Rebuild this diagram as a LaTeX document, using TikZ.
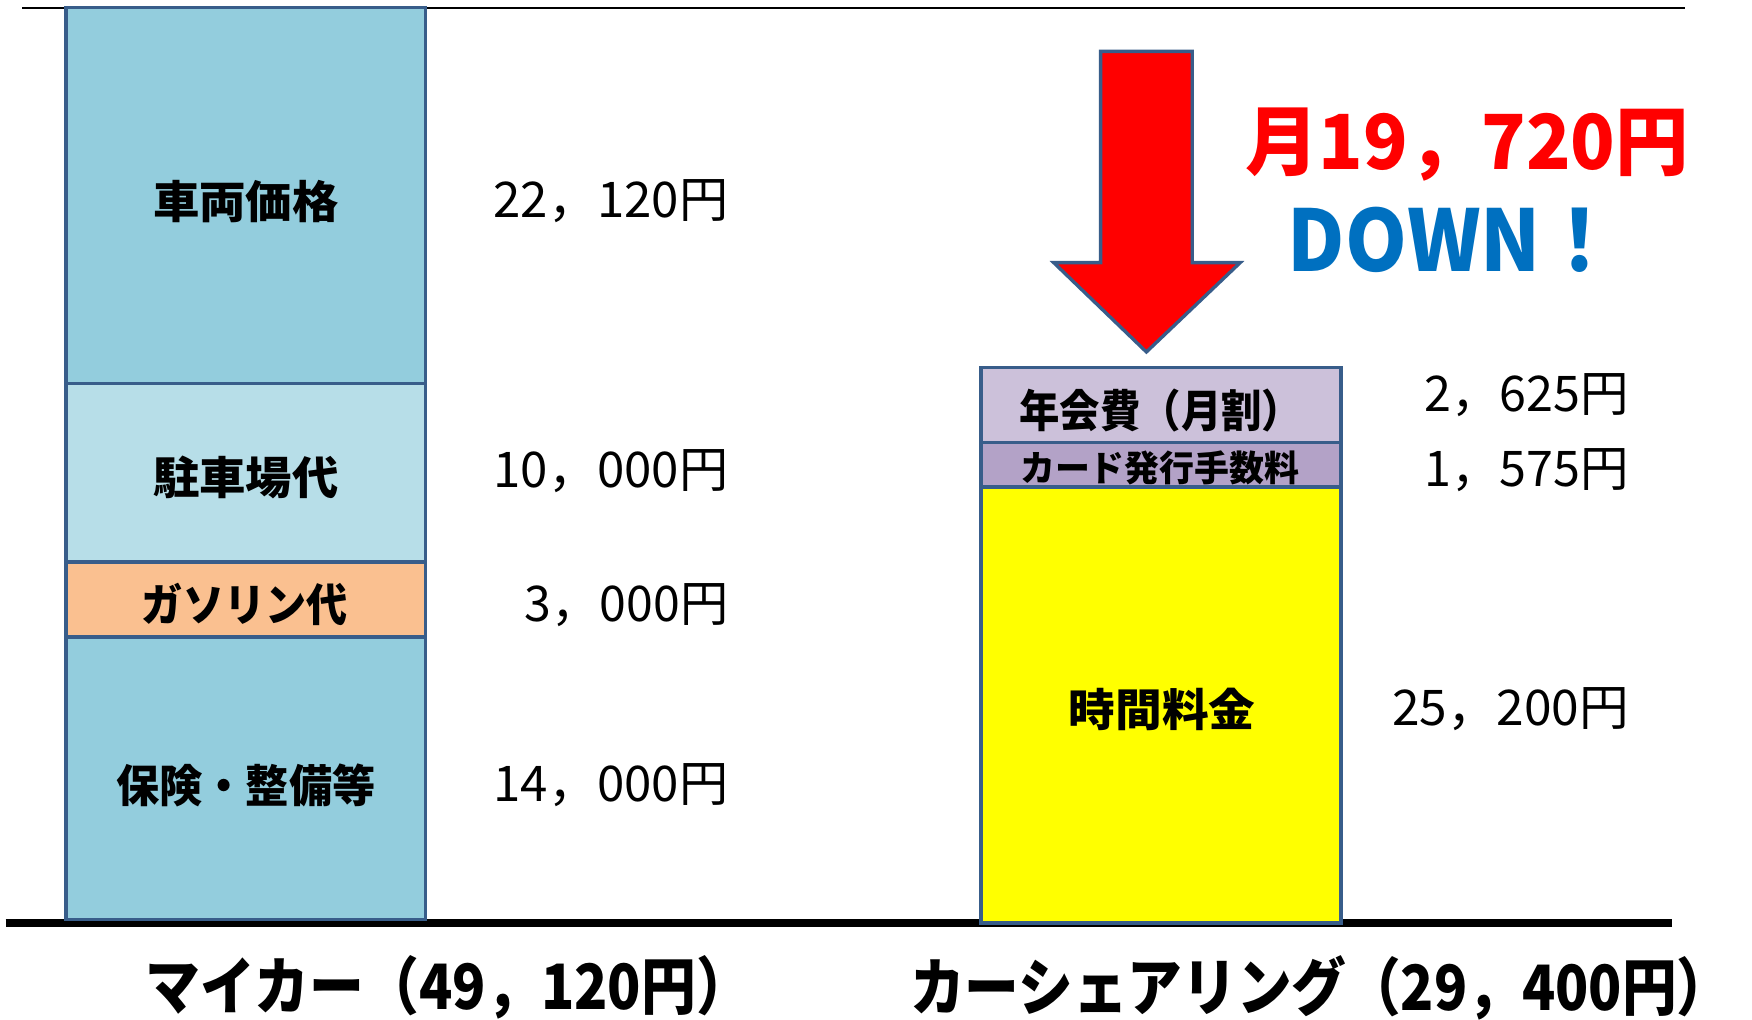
\documentclass[tikz,border=0pt]{standalone}
\usepackage{fontspec}
\setmainfont{Noto Sans CJK JP}
\usepackage{graphicx}
\definecolor{outl}{HTML}{385D8A}
\definecolor{aqua}{HTML}{93CDDD}
\definecolor{aqualt}{HTML}{B7DEE8}
\definecolor{orng}{HTML}{FAC090}
\definecolor{purlt}{HTML}{CCC1DA}
\definecolor{purmd}{HTML}{B3A2C7}
\definecolor{ylw}{HTML}{FFFF00}
\definecolor{downblue}{HTML}{0070C0}
\newcommand{\fitw}[2]{\resizebox{#1pt}{\height}{#2}}
\begin{document}
\begin{tikzpicture}[x=1pt,y=-1pt,
  seg/.style={draw=outl, line width=3pt, minimum width=322pt, inner sep=0pt, outer sep=0pt, anchor=north west},
  lbl/.style={font=\fontsize{40}{42}\selectfont\bfseries},
  val/.style={font=\fontsize{44}{46}\selectfont, anchor=east, inner sep=0pt},
  captext/.style={font=\fontsize{56}{58}\selectfont\bfseries, inner sep=0pt}]
\useasboundingbox (0,0) rectangle (1568,912);
\fill[white] (0,0) rectangle (1568,912);
% axes
\coordinate (tl) at (20,7); \coordinate (tr) at (1508,7);
\coordinate (bl) at (5,826); \coordinate (br) at (1496,826);
\draw[line width=2pt] (tl) -- (tr);
\draw[line width=7pt] (bl) -- (br);
% left bar
\node[seg, fill=aqua, minimum height=336pt] (l1) at (59,7) {};
\node[seg, fill=aqualt, minimum height=160pt] (l2) at (59,343) {};
\node[seg, fill=orng, minimum height=67pt] (l3) at (59,503) {};
\node[seg, fill=aqua, minimum height=253pt] (l4) at (59,570) {};
\node[lbl] (t1) at (220,180) {\fitw{166}{車両価格}};
\node[lbl] (t2) at (220,427) {\fitw{166}{駐車場代}};
\node[lbl] (t3) at (219,541) {\fitw{184}{ガソリン代}};
\node[lbl] (t4) at (220,703) {\fitw{232}{保険・整備等}};
% left values
\node[val] (v1) at (652,180) {\fitw{210}{22，120円}};
\node[val] (v2) at (652,422) {\fitw{210}{10，000円}};
\node[val] (v3) at (652,542) {\fitw{182}{3，000円}};
\node[val] (v4) at (652,703) {\fitw{210}{14，000円}};
% right bar
\node[seg, fill=purlt, minimum height=67pt] (r1) at (878,329) {};
\node[seg, fill=purmd, minimum height=40pt] (r2) at (878,396) {};
\node[seg, fill=ylw, minimum height=390pt] (r3) at (878,436) {};
\node[lbl] (s1) at (1039,367) {\fitw{253}{年会費（月割）}};
\node[lbl, font=\fontsize{32}{34}\selectfont\bfseries] (s2) at (1038,419) {\fitw{250}{カード発行手数料}};
\node[lbl] (s3) at (1040,635) {\fitw{167}{時間料金}};
% right values
\node[val] (w1) at (1458,354) {\fitw{183}{2，625円}};
\node[val] (w2) at (1458,421) {\fitw{183}{1，575円}};
\node[val] (w3) at (1458,635) {\fitw{212}{25，200円}};
% arrow
\draw[draw=outl, line width=3pt, fill=red, line join=miter]
  (985,46) -- (1067,46) -- (1067,235) -- (1110,235) -- (1026,315) -- (943,235) -- (985,235) -- cycle;
% headline
\node[inner sep=0pt, text=red, font=\fontsize{68}{70}\selectfont\bfseries] (h1) at (1313,129) {\fitw{397}{月19，720円}};
\node[inner sep=0pt, text=downblue, font=\fontsize{76}{78}\selectfont\bfseries] (h2) at (1301,215) {\fitw{297}{DOWN！}};
% captions
\node[captext] (c1) at (401,884) {\fitw{542}{マイカー（49，120円）}};
\node[captext] (c2) at (1182,884) {\fitw{735}{カーシェアリング（29，400円）}};
\end{tikzpicture}
\end{document}
